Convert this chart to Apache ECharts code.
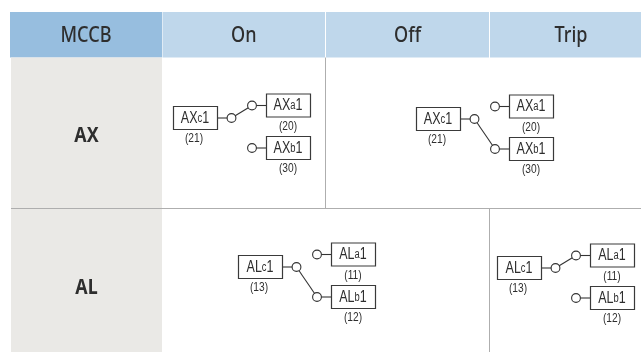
<!DOCTYPE html>
<html><head><meta charset="utf-8">
<style>html,body{margin:0;padding:0;background:#fff}#c{width:641px;height:352px}</style>
<script src="https://cdn.jsdelivr.net/npm/echarts@6/dist/echarts.min.js"></script>
</head><body><div id="c"></div>
<script>
// Table content
const headers = ['MCCB', 'On', 'Off', 'Trip'];
const rowNames = ['AX', 'AL'];
const terminalLetters = ['c', 'a', 'b'];
const axTerminalNumbers = ['(21)', '(20)', '(30)'];
const alTerminalNumbers = ['(13)', '(11)', '(12)'];
// Which contact each diagram's switch closes on
const axStates = ['a', 'b'];   // On, Off+Trip merged
const alStates = ['b', 'a'];   // On+Off merged, Trip

// Layout (kept apart from the content)
const colX = [10, 162, 325.5, 489.5, 641];
const headTextShift = [0, 0, 0, 5.5];
const rowY = [12, 57.5, 208.5, 352];
const L = {boxW: 44, boxH: 23, dA: -12.5, dB: 30, boxGap: 93, cCircle: 58, tCircle: -14.5, r: 4.4};
const diagramAnchors = [
  {row: 0, col: 0, x: 173.5, y: 106.5, state: axStates[0]},
  {row: 0, col: 1, x: 416.5, y: 107.5, state: axStates[1]},
  {row: 1, col: 0, x: 238.5, y: 255.5, state: alStates[0]},
  {row: 1, col: 1, x: 497.5, y: 256.5, state: alStates[1]}
];
const FILL = {dark: '#97bedf', light: '#bfd7eb', grey: '#eae9e6', rule: '#aeaeae', ink: '#2e2e2e', wire: '#333333'};
const headFont = '"Noto Sans",sans-serif';
const boxFont = '"Liberation Sans",Arial,sans-serif';
const numFont = '"Liberation Sans",Arial,sans-serif';

const chart = echarts.init(document.getElementById('c'), null, {renderer: 'canvas'});

// Condensed text: the reference face is narrower than the installed ones.
function squeezed(x, y, sx, style) {
  return {type: 'text', x: x, y: y, scaleX: sx,
    style: Object.assign({x: 0, y: 0, align: 'center', verticalAlign: 'middle', fill: FILL.ink}, style)};
}

function renderCell(params, api) {
  const i = api.value(0);
  const kind = api.value(1);
  const c = [];
  const pt = (x, y) => api.coord([x, y]);
  if (kind === 0) {            // header cell
    const a = pt(colX[i] + (i > 0 ? 0.5 : 0), rowY[0]), b = pt(colX[i + 1] - (i > 0 && i < 3 ? 0.5 : 0), rowY[1]);
    c.push({type: 'rect', shape: {x: a[0], y: a[1], width: b[0] - a[0], height: b[1] - a[1]},
      style: {fill: i === 0 ? FILL.dark : FILL.light}});
    c.push(squeezed((a[0] + b[0]) / 2 + headTextShift[i], (a[1] + b[1]) / 2 + 1.5, 0.86,
      {text: headers[i], font: '500 21px ' + headFont}));
  } else {                     // row-name cell
    const a = pt(11, rowY[i + 1]), b = pt(colX[1], rowY[i + 2]);
    c.push({type: 'rect', shape: {x: a[0], y: a[1], width: b[0] - a[0], height: b[1] - a[1]}, style: {fill: FILL.grey}});
    c.push(squeezed((a[0] + b[0]) / 2, i === 0 ? 136 : 288, 0.85,
      {text: rowNames[i], font: '700 21px ' + headFont}));
  }
  return {type: 'group', children: c};
}

function renderRules(params, api) {
  const x1 = api.value(0), y1 = api.value(1), x2 = api.value(2), y2 = api.value(3);
  const a = api.coord([x1, y1]), b = api.coord([x2, y2]);
  return {type: 'line', shape: {x1: a[0], y1: a[1], x2: b[0], y2: b[1]},
    style: {stroke: FILL.rule, lineWidth: 1}};
}

function renderDiagram(params, api) {
  const d = diagramAnchors[api.value(0)];
  const letter = terminalLetters;
  const nums = d.row === 0 ? axTerminalNumbers : alTerminalNumbers;
  const name = rowNames[d.row];
  const c = [];
  const p = (x, y) => api.coord([x, y]);
  const boxes = [[d.x, d.y], [d.x + L.boxGap, d.y + L.dA], [d.x + L.boxGap, d.y + L.dB]];
  const cy = [0, 1, 2].map(k => boxes[k][1] + L.boxH / 2);
  const cc = p(d.x + L.cCircle, cy[0]);
  const tx = d.x + L.boxGap + L.tCircle;
  const ta = p(tx, cy[1]), tb = p(tx, cy[2]);
  const stroke = {stroke: FILL.wire, lineWidth: 1.1, fill: 'none'};
  const line = (a, b) => c.push({type: 'line', shape: {x1: a[0], y1: a[1], x2: b[0], y2: b[1]}, style: stroke});
  line(p(d.x + L.boxW, cy[0]), cc);
  line(ta, p(d.x + L.boxGap, cy[1]));
  line(tb, p(d.x + L.boxGap, cy[2]));
  line(cc, d.state === 'a' ? ta : tb);
  [cc, ta, tb].forEach(q => c.push({type: 'circle', shape: {cx: q[0], cy: q[1], r: L.r},
    style: {fill: '#fff', stroke: FILL.wire, lineWidth: 1.1}}));
  boxes.forEach((b, k) => {
    const q = p(b[0], b[1]);
    c.push({type: 'rect', shape: {x: q[0], y: q[1], width: L.boxW, height: L.boxH},
      style: {fill: '#fff', stroke: '#3a3a3a', lineWidth: 1.2}});
    c.push(squeezed(q[0] + L.boxW / 2 - 0.5, q[1] + L.boxH / 2 + 0.5, 0.78, {
      text: '{n|' + name + '}{s|' + letter[k] + '}{n|1}',
      rich: {n: {font: '16px ' + boxFont, fill: FILL.ink}, s: {font: '12px ' + boxFont, fill: FILL.ink}}}));
    const labelX = k === 0 ? q[0] + L.boxW / 2 - 1.5 : q[0] + L.boxW / 2 - 0.5;
    c.push(squeezed(labelX, q[1] + L.boxH + 9.5, 0.85, {text: nums[k], font: '12px ' + numFont}));
  });
  return {type: 'group', children: c};
}

const cellData = [...headers.map((h, i) => [i, 0]), ...rowNames.map((r, i) => [i, 1])];
const ruleData = [[11, 208.5, 641, 208.5], [325.5, 57.5, 325.5, 208.5], [489.5, 208.5, 489.5, 352]];
const diagramData = diagramAnchors.map((d, i) => [i]);

chart.setOption({
  animation: false,
  grid: {left: 0, right: 0, top: 0, bottom: 0},
  xAxis: {type: 'value', min: 0, max: 641, show: false},
  yAxis: {type: 'value', min: 0, max: 352, inverse: true, show: false},
  series: [
    {name: 'Cells', type: 'custom', silent: true, clip: false, renderItem: renderCell, data: cellData, encode: {x: 0, y: 1}},
    {name: 'Rules', type: 'custom', silent: true, clip: false, renderItem: renderRules, data: ruleData, encode: {x: [0, 2], y: [1, 3]}},
    {name: 'Diagrams', type: 'custom', silent: true, clip: false, renderItem: renderDiagram, data: diagramData, encode: {x: 0}}
  ]
});
</script></body></html>
